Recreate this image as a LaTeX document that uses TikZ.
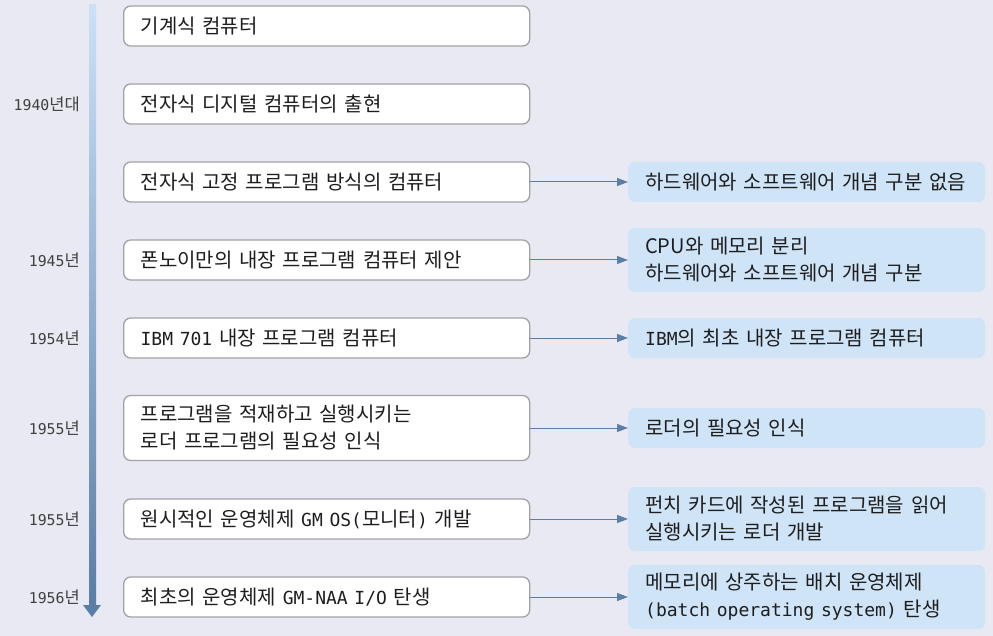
\documentclass[tikz,border=0pt]{standalone}
\usepackage{fontspec}
\setmainfont{Noto Sans CJK KR}
\setmonofont[Scale=0.9]{DejaVu Sans Mono}
\usetikzlibrary{arrows.meta}
\definecolor{pagebg}{HTML}{E8E9F2}
\definecolor{linetop}{HTML}{C9E2F6}
\definecolor{linebot}{HTML}{5B7EA6}
\definecolor{notefill}{HTML}{CFE4F7}
\definecolor{boxline}{HTML}{A2A2A6}
\definecolor{inktext}{HTML}{1E1E1E}

\begin{document}
\begin{tikzpicture}[x=1pt,y=-1pt,>={Triangle[length=11pt,width=8pt]},
    event/.style={draw=boxline,line width=1.3pt,fill=white,rounded corners=7pt,anchor=west,
      minimum width=406pt,minimum height=40pt,inner xsep=17pt,text width=372pt,align=left,
      text=inktext,font=\fontsize{20}{27}\selectfont},
    note/.style={fill=notefill,rounded corners=7pt,anchor=west,
      minimum width=357pt,minimum height=40pt,inner xsep=17pt,text width=323pt,align=left,
      text=inktext,font=\fontsize{20}{27}\selectfont},
    year/.style={anchor=east,text=inktext!85,inner sep=0pt,font=\fontsize{16.5}{18}\selectfont},
    link/.style={->,draw=linebot,line width=1pt}]
  \fill[pagebg] (0,0) rectangle (993,636);
  \useasboundingbox (0,0) rectangle (993,636);
  % timeline
  \shade[top color=linetop,bottom color=linebot] (89,5) rectangle (96,606);
  \fill[linebot] (83,605) -- (101,605) -- (92,617) -- cycle;
  % years
  \node[year] (y1) at (80,104) {\texttt{1940}년대};
  \node[year] (y2) at (80,260) {\texttt{1945}년};
  \node[year] (y3) at (80,338) {\texttt{1954}년};
  \node[year] (y4) at (80,428) {\texttt{1955}년};
  \node[year] (y5) at (80,519) {\texttt{1955}년};
  \node[year] (y6) at (80,597) {\texttt{1956}년};
  % events
  \node[event] (e1) at (123,26) {기계식 컴퓨터};
  \node[event] (e2) at (123,104) {전자식 디지털 컴퓨터의 출현};
  \node[event] (e3) at (123,182) {전자식 고정 프로그램 방식의 컴퓨터};
  \node[event] (e4) at (123,260) {폰노이만의 내장 프로그램 컴퓨터 제안};
  \node[event] (e5) at (123,338) {\texttt{IBM 701} 내장 프로그램 컴퓨터};
  \node[event,minimum height=65pt] (e6) at (123,428) {프로그램을 적재하고 실행시키는\\로더 프로그램의 필요성 인식};
  \node[event] (e7) at (123,519) {원시적인 운영체제 \texttt{GM OS(}모니터\texttt{)} 개발};
  \node[event] (e8) at (123,597) {최초의 운영체제 \texttt{GM-NAA I/O} 탄생};
  % notes
  \node[note] (n3) at (628,182) {하드웨어와 소프트웨어 개념 구분 없음};
  \node[note,minimum height=64pt] (n4) at (628,260) {CPU와 메모리 분리\\하드웨어와 소프트웨어 개념 구분};
  \node[note] (n5) at (628,338) {\texttt{IBM}의 최초 내장 프로그램 컴퓨터};
  \node[note] (n6) at (628,428) {로더의 필요성 인식};
  \node[note,minimum height=64pt] (n7) at (628,519) {펀치 카드에 작성된 프로그램을 읽어\\실행시키는 로더 개발};
  \node[note,minimum height=64pt] (n8) at (628,597) {메모리에 상주하는 배치 운영체제\\\texttt{(batch operating system)} 탄생};
  % links
  \foreach \k in {3,...,8}
    \draw[link] (e\k.east) -- (n\k.west);
\end{tikzpicture}
\end{document}
